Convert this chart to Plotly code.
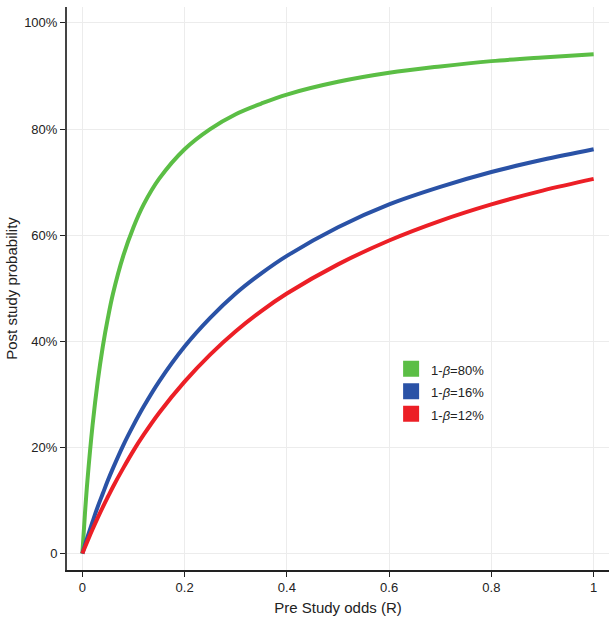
import plotly.graph_objects as go

R = [0, 0.005, 0.01, 0.02, 0.03, 0.04, 0.05, 0.06, 0.08, 0.1, 0.12, 0.15,
     0.2, 0.25, 0.3, 0.35, 0.4, 0.5, 0.6, 0.7, 0.8, 0.9, 1.0]
ppv_80 = [0, 0.074, 0.138, 0.242, 0.324, 0.390, 0.444, 0.490, 0.561, 0.615, 0.658, 0.706,
          0.762, 0.800, 0.828, 0.848, 0.865, 0.889, 0.906, 0.918, 0.928, 0.935, 0.941]
ppv_16 = [0, 0.0157, 0.031, 0.060, 0.088, 0.113, 0.138, 0.161, 0.204, 0.242, 0.277, 0.324,
          0.390, 0.444, 0.490, 0.528, 0.561, 0.615, 0.658, 0.691, 0.719, 0.742, 0.762]
ppv_12 = [0, 0.0119, 0.0234, 0.0458, 0.0672, 0.0876, 0.107, 0.126, 0.161, 0.194, 0.224, 0.265,
          0.324, 0.375, 0.419, 0.457, 0.490, 0.545, 0.590, 0.627, 0.658, 0.684, 0.706]

names = ["1-<i>β</i>=80%", "1-<i>β</i>=16%", "1-<i>β</i>=12%"]
colors = ["#5BBE45", "#2A52A6", "#EC1F26"]
series = [ppv_80, ppv_16, ppv_12]

x_ticks = [0, 0.2, 0.4, 0.6, 0.8, 1]
x_labels = ["0", "0.2", "0.4", "0.6", "0.8", "1"]
y_ticks = [0, 0.2, 0.4, 0.6, 0.8, 1]
y_labels = ["0", "20%", "40%", "60%", "80%", "100%"]

fig = go.Figure()
for ys, c in zip(series, colors):
    fig.add_trace(go.Scatter(x=R, y=ys, mode="lines", line=dict(color=c, width=4, shape="spline"),
                             showlegend=False, hoverinfo="skip"))
for n, c in zip(names, colors):
    fig.add_trace(go.Scatter(x=[None], y=[None], mode="markers",
                             name='<span style="font-size:13px">' + n + '</span>',
                             marker=dict(symbol="square", size=17, color=c)))

font = "Liberation Sans, Arial, Helvetica, sans-serif"
fig.update_layout(
    width=616, height=621,
    margin=dict(l=67, r=7, t=7, b=49),
    paper_bgcolor="white", plot_bgcolor="white",
    font=dict(family=font, size=13, color="#222"),
    legend=dict(x=0.598, y=0.3865, xanchor="left", yanchor="top", bgcolor="rgba(0,0,0,0)",
                font=dict(size=15), itemsizing="trace", tracegroupgap=0),
    xaxis=dict(range=[-0.03, 1.03], tickvals=x_ticks, ticktext=x_labels,
               showgrid=True, gridcolor="#ececec", gridwidth=1, zeroline=False,
               showline=True, linecolor="#222", linewidth=1.5,
               ticks="outside", ticklen=5, tickcolor="#222",
               title=dict(text="Pre Study odds (R)", font=dict(size=15), standoff=8)),
    yaxis=dict(range=[-0.031, 1.03], tickvals=y_ticks, ticktext=y_labels,
               showgrid=True, gridcolor="#ececec", gridwidth=1, zeroline=False,
               showline=True, linecolor="#444", linewidth=2,
               ticks="outside", ticklen=5, tickcolor="#222",
               title=dict(text="Post study probability", font=dict(size=15), standoff=3)),
)
fig.write_html("out.html", post_script="document.body.style.margin='0';",
               config={"displayModeBar": False})
